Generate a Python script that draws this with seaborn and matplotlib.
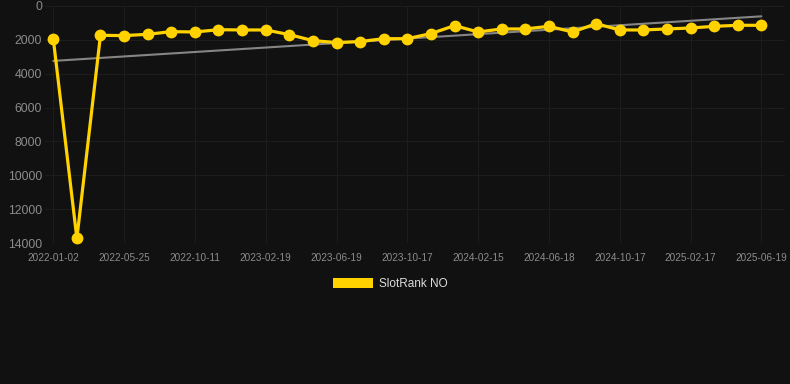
import numpy as np
import pandas as pd
import matplotlib
matplotlib.use("Agg")
import matplotlib.pyplot as plt
from matplotlib.patches import Patch
import seaborn as sns

# observation dates (every third one is shown on the axis)
dates = [
    "2022-01-02", "2022-02-18", "2022-04-08", "2022-05-25", "2022-07-10",
    "2022-08-26", "2022-10-11", "2022-11-26", "2023-01-04", "2023-02-19",
    "2023-03-30", "2023-05-09", "2023-06-19", "2023-07-29", "2023-09-07",
    "2023-10-17", "2023-11-26", "2024-01-06", "2024-02-15", "2024-03-25",
    "2024-05-07", "2024-06-18", "2024-07-29", "2024-09-07", "2024-10-17",
    "2024-11-26", "2025-01-06", "2025-02-17", "2025-03-29", "2025-05-09",
    "2025-06-19",
]
rank_no = [
    1930, 13730, 1730, 1750, 1670, 1515, 1535, 1400, 1415, 1415,
    1690, 2045, 2160, 2100, 1930, 1930, 1630, 1160, 1535, 1355,
    1355, 1200, 1535, 1045, 1415, 1415, 1355, 1300, 1200, 1140,
    1140,
]
y_ticks = [0, 2000, 4000, 6000, 8000, 10000, 12000, 14000]
series_name = "SlotRank NO"

BG = "#111111"
GOLD = "#FFD200"

sns.set_theme(style="dark")
plt.rcParams["font.family"] = ["Liberation Sans", "DejaVu Sans"]

df = pd.DataFrame({"idx": np.arange(len(dates)), "date": dates, "rank": rank_no})

# linear trend over the whole series
coef = np.polyfit(df["idx"], df["rank"], 1)
df["trend"] = np.polyval(coef, df["idx"])

fig = plt.figure(figsize=(7.9, 3.84), dpi=100, facecolor=BG)
ax = fig.add_axes([45 / 790, 1 - 243 / 384, 740 / 790, 237 / 384])
ax.set_facecolor(BG)

sns.lineplot(data=df, x="idx", y="trend", ax=ax, color="#858585", linewidth=1.5)
sns.lineplot(data=df, x="idx", y="rank", ax=ax, color=GOLD, linewidth=2.3,
             marker="o", markersize=8.5, markeredgewidth=0, clip_on=False)

ax.set_xlim(-0.35, 31.0)
ax.set_ylim(14000, 0)
ax.set_yticks(y_ticks)
ax.set_yticklabels([str(v) for v in y_ticks])
shown = list(range(0, len(dates), 3))
ax.set_xticks(shown)
ax.set_xticklabels([dates[i] for i in shown])
ax.set_xlabel("")
ax.set_ylabel("")

ax.grid(True, color="#1d1d1d", linewidth=0.8)
for s in ax.spines.values():
    s.set_visible(False)
ax.tick_params(axis="y", length=0, pad=2, labelsize=8.8, labelcolor="#8c8c8c")
ax.tick_params(axis="x", length=0, pad=7, labelsize=7.2, labelcolor="#8c8c8c")

fig.legend(handles=[Patch(facecolor=GOLD, edgecolor="none", label=series_name)],
           loc="center", bbox_to_anchor=(390 / 790, 1 - 284 / 384),
           frameon=False, fontsize=8.5, labelcolor="#dddddd",
           handlelength=3.4, handleheight=1.0, handletextpad=0.5)

fig.savefig("out.png", dpi=100, facecolor=BG)
